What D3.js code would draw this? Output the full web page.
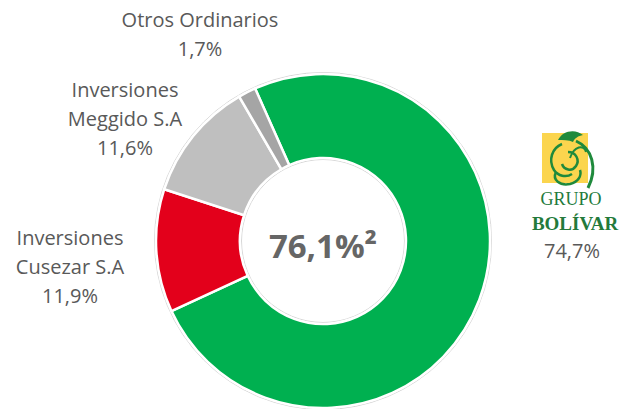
<!DOCTYPE html>
<html>
<head>
<meta charset="utf-8">
<script src="https://cdn.jsdelivr.net/npm/d3@7"></script>
<style>
  body { margin: 0; background: #fff; }
  svg { display: block; }
</style>
</head>
<body>
<div id="chart"></div>
<script>
// data
var names = ["Grupo Bolívar", "Inversiones Cusezar S.A", "Inversiones Meggido S.A", "Otros Ordinarios"];
var values = [74.7, 11.9, 11.6, 1.7];
var valueLabels = ["74,7%", "11,9%", "11,6%", "1,7%"];
var labelLines = [[], ["Inversiones", "Cusezar S.A"], ["Inversiones", "Meggido S.A"], ["Otros Ordinarios"]];
var colors = ["#00b050", "#e3001b", "#bfbfbf", "#a5a5a5"];
var centerText = "76,1%²";

var width = 623, height = 409;
var cx = 323, cy = 241, outerR = 167, innerR = 83;
// label anchors (layout only)
var labelPos = [[572, 258], [70, 245], [125, 97], [200, 27]];
var lineGap = 29;

var svg = d3.select("#chart")
    .append("svg")
        .attr("width", width)
        .attr("height", height);

var g = svg.append("g")
    .attr("transform", "translate(" + cx + "," + cy + ")");

var pie = d3.pie()
    .sort(null)
    .startAngle(-24 * Math.PI / 180)
    .endAngle(-24 * Math.PI / 180 + 2 * Math.PI)
    .value(function(d){ return d; });

var arc = d3.arc()
    .innerRadius(innerR)
    .outerRadius(outerR);

// faint outline like the original
g.append("circle").attr("r", outerR + 1.5)
    .style("fill", "none").style("stroke", "#d6d6d6").style("stroke-width", 1);
g.append("circle").attr("r", innerR - 1.5)
    .style("fill", "none").style("stroke", "#d6d6d6").style("stroke-width", 1);

g.selectAll("path.slice")
    .data(pie(values))
    .enter()
    .append("path")
        .attr("class", "slice")
        .attr("d", arc)
        .style("fill", function(d, i){ return colors[i]; })
        .style("stroke", "#fff")
        .style("stroke-width", 2.5);

// center text
g.append("text")
    .attr("x", 0)
    .attr("y", 17)
    .attr("text-anchor", "middle")
    .style("font-family", "'Open Sans', 'Liberation Sans', sans-serif")
    .style("font-weight", "bold")
    .style("font-size", "33px")
    .style("fill", "#666")
    .text(centerText);

// slice labels
labelLines.forEach(function(lines, i){
    if (i === 0) return;
    var t = svg.append("text")
        .attr("x", labelPos[i][0])
        .attr("y", labelPos[i][1])
        .attr("text-anchor", "middle")
        .style("font-family", "'Open Sans', 'Liberation Sans', sans-serif")
        .style("font-size", "20px")
        .style("fill", "#595959");
    lines.concat([valueLabels[i]]).forEach(function(s, k){
        t.append("tspan")
            .attr("x", labelPos[i][0])
            .attr("dy", k === 0 ? 0 : lineGap)
            .text(s);
    });
});

// Grupo Bolivar logo + value
var logo = svg.append("g").attr("transform", "translate(542,130)");
logo.append("rect")
    .attr("x", 0).attr("y", 3)
    .attr("width", 46).attr("height", 50)
    .style("fill", "#fbd54e");
var green = "#1f8a3c";
logo.append("path")
    .attr("d", "M16,10 C20,1 33,-2 41,5 C36,6 33,8 31,12 C27,10 21,10 16,10 Z")
    .style("fill", green);
logo.append("path")
    .attr("d", "M34,11 C50,18 56,38 46,58")
    .style("fill", "none").style("stroke", green).style("stroke-width", 3);
logo.append("path")
    .attr("d", "M20,14 C10,18 6,30 12,40 C16,46 24,48 30,44")
    .style("fill", "none").style("stroke", green).style("stroke-width", 2.5);
logo.append("path")
    .attr("d", "M26,22 C34,22 38,30 34,36 C30,42 22,40 20,34")
    .style("fill", "none").style("stroke", green).style("stroke-width", 2.5);
logo.append("path")
    .attr("d", "M14,42 C10,50 18,56 28,54 C36,52 40,46 38,40")
    .style("fill", "none").style("stroke", green).style("stroke-width", 2.5);
logo.append("path")
    .attr("d", "M28,28 C32,16 42,14 44,22")
    .style("fill", "none").style("stroke", green).style("stroke-width", 2);

svg.append("text")
    .attr("x", 571).attr("y", 205)
    .attr("text-anchor", "middle")
    .style("font-family", "'Liberation Serif', serif")
    .style("font-size", "18px")
    .style("fill", "#237a3b")
    .text("GRUPO");
svg.append("text")
    .attr("x", 575).attr("y", 230)
    .attr("text-anchor", "middle")
    .style("font-family", "'Liberation Serif', serif")
    .style("font-size", "19px")
    .style("font-weight", "bold")
    .style("fill", "#237a3b")
    .text("BOLÍVAR");
svg.append("text")
    .attr("x", labelPos[0][0])
    .attr("y", labelPos[0][1])
    .attr("text-anchor", "middle")
    .style("font-family", "'Open Sans', 'Liberation Sans', sans-serif")
    .style("font-size", "20px")
    .style("fill", "#595959")
    .text(valueLabels[0]);
</script>
</body>
</html>
